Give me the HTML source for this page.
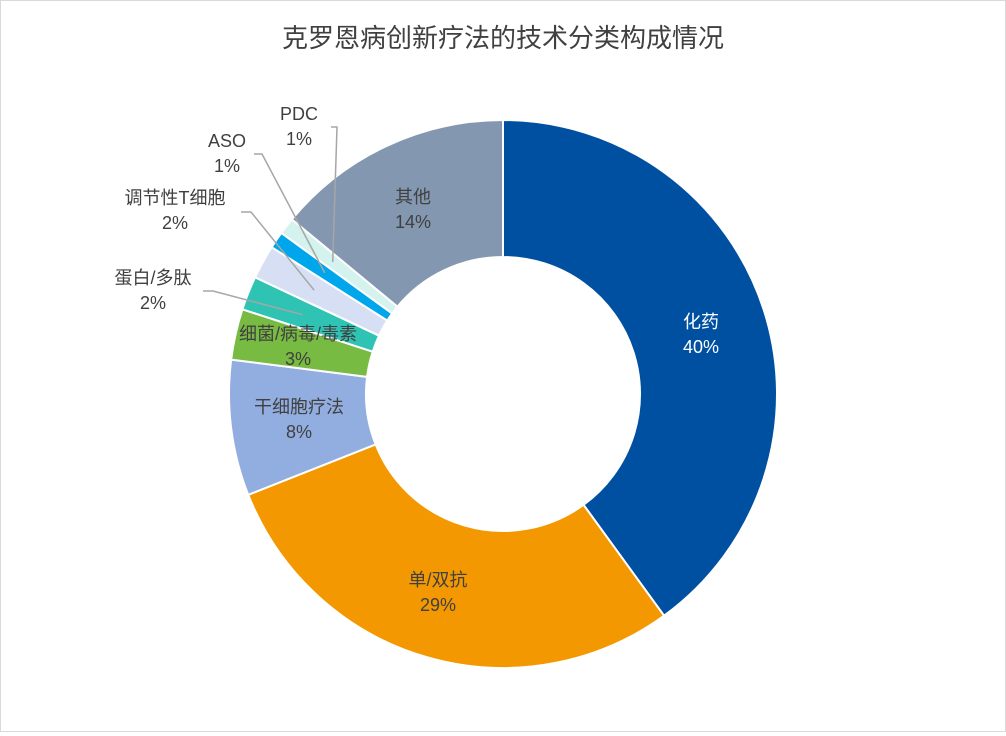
<!DOCTYPE html>
<html><head><meta charset="utf-8"><style>
body{margin:0;background:#fff;}
#c{position:relative;width:1004px;height:730px;border:1px solid #d9d9d9;background:#fff;}
svg text{font-family:"Liberation Sans","Noto Sans CJK SC",sans-serif;}
</style></head><body>
<div id="c">
<svg id="s" width="1004" height="730">
<text x="502" y="46" text-anchor="middle" font-size="26" fill="#404040">克罗恩病创新疗法的技术分类构成情况</text>
<g id="slices"></g><g id="leaders"></g><g id="labels"></g>
</svg></div>
<script>
const categories=["化药","单/双抗","干细胞疗法","细菌/病毒/毒素","蛋白/多肽","调节性T细胞","ASO","PDC","其他"];
const values=[40,29,8,3,2,2,1,1,14];
const valueLabels=["40%","29%","8%","3%","2%","2%","1%","1%","14%"];
const colors=["#0050A2","#F39800","#92AEE0","#78BB42","#2EC3B3","#D7DFF4","#00A6EC","#D4F2EE","#8497B0"];
const cx=502,cy=393,R=274,r=137;
const NS="http://www.w3.org/2000/svg";
const total=values.reduce((a,b)=>a+b,0);
function pt(a,rad){return [cx+rad*Math.sin(a),cy-rad*Math.cos(a)];}
const sg=document.getElementById('slices');
let acc=0;const mids=[];
values.forEach((v,i)=>{
 const a0=acc/total*2*Math.PI;acc+=v;const a1=acc/total*2*Math.PI;
 mids.push((a0+a1)/2);
 const large=(a1-a0)>Math.PI?1:0;
 const p0=pt(a0,R),p1=pt(a1,R),q1=pt(a1,r),q0=pt(a0,r);
 const p=document.createElementNS(NS,'path');
 p.setAttribute('d',`M${p0[0]},${p0[1]}A${R},${R} 0 ${large} 1 ${p1[0]},${p1[1]}L${q1[0]},${q1[1]}A${r},${r} 0 ${large} 0 ${q0[0]},${q0[1]}Z`);
 p.setAttribute('fill',colors[i]);p.setAttribute('stroke','#fff');p.setAttribute('stroke-width','2');
 
 
 sg.appendChild(p);
});
// label placement (layout, not data)
const labelPos=[[700,327],[437,585],[298,412],[297,339],[152,283],[174,203],[226,146],[298,119],[412,202]];
const leaderStart=[null,null,null,null,[202,290,212],[240,211,250],[253,153,261],[330,126,336]];
const lg=document.getElementById('labels'),ld=document.getElementById('leaders');
categories.forEach((c,i)=>{
 const t=document.createElementNS(NS,'text');
 t.setAttribute('x',labelPos[i][0]);t.setAttribute('y',labelPos[i][1]);
 t.setAttribute('text-anchor','middle');t.setAttribute('font-size','18');
 t.setAttribute('fill',i===0?'#ffffff':'#404040');
 
 
 const s1=document.createElementNS(NS,'tspan');s1.textContent=c;s1.setAttribute('x',labelPos[i][0]);
 const s2=document.createElementNS(NS,'tspan');s2.textContent=valueLabels[i];s2.setAttribute('x',labelPos[i][0]);s2.setAttribute('dy','25');
 t.appendChild(s1);t.appendChild(s2);lg.appendChild(t);
 if(leaderStart[i]){
  const e=pt(mids[i],(R+r)/2+10);
  const L=leaderStart[i];
  const pl=document.createElementNS(NS,'polyline');
  pl.setAttribute('points',`${L[0]},${L[1]} ${L[2]},${L[1]} ${e[0]},${e[1]}`);
  pl.setAttribute('fill','none');pl.setAttribute('stroke','#A6A6A6');pl.setAttribute('stroke-width','1.5');
  
  
  ld.appendChild(pl);
 }
});
</script>
</body></html>
